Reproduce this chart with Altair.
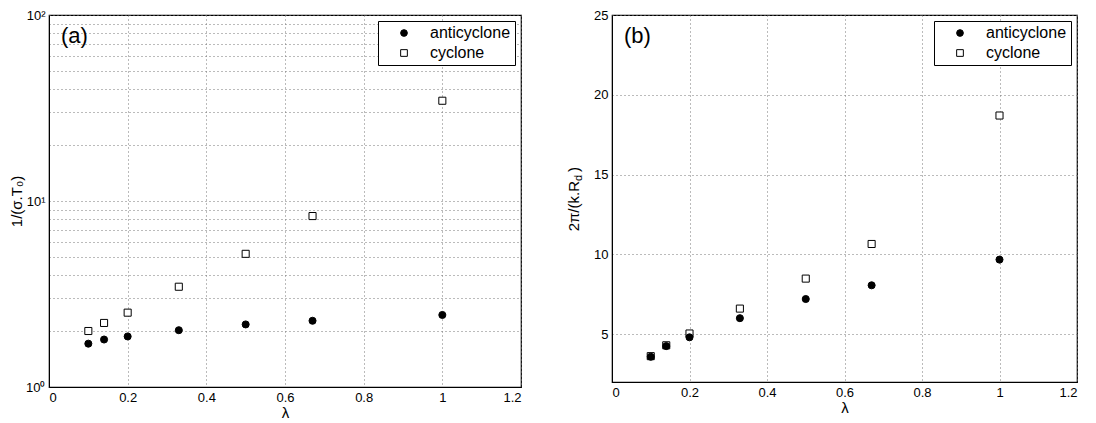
import altair as alt
import pandas as pd

# ---- data ----
lam = [0.1, 0.14, 0.2, 0.33, 0.5, 0.67, 1.0]
series = ["anticyclone", "cyclone"]
a_anti = [1.71, 1.80, 1.87, 2.02, 2.17, 2.27, 2.44]
a_cyc = [2.00, 2.21, 2.51, 3.46, 5.2, 8.3, 34.6]
b_anti = [3.58, 4.25, 4.80, 6.00, 7.20, 8.06, 9.67]
b_cyc = [3.62, 4.30, 5.04, 6.60, 8.48, 10.65, 18.70]
x_ticks = [0, 0.2, 0.4, 0.6, 0.8, 1.0, 1.2]
a_grid = [1, 2, 3, 4, 5, 6, 7, 8, 9, 10, 20, 30, 40, 50, 60, 70, 80, 90, 100]
b_ticks = [5, 10, 15, 20, 25]

FONT = "Liberation Sans"


def frame(anti, cyc):
    rows = []
    for x, v in zip(lam, anti):
        rows.append({"lam": x, "val": v, "type": series[0]})
    for x, v in zip(lam, cyc):
        rows.append({"lam": x, "val": v, "type": series[1]})
    df = pd.DataFrame(rows)
    df["order"] = df["type"].map({series[0]: 1, series[1]: 0})
    return df


def legend():
    return alt.Legend(
        orient="top-right", title=None, strokeColor="black", fillColor="white",
        padding=4, offset=6, labelFontSize=16, labelFont=FONT, labelColor="black",
        symbolSize=45, symbolOffset=14, labelOffset=18, rowPadding=4,
        cornerRadius=0, symbolStrokeWidth=1, symbolOpacity=1,
    )


def xenc():
    return alt.X("lam:Q", title="λ",
                 scale=alt.Scale(domain=[0, 1.2], nice=False, zero=False),
                 axis=alt.Axis(values=x_ticks, format="~g", grid=True,
                               titleFontSize=15, titlePadding=1))


def points(df, yenc):
    return alt.Chart(df).mark_point(filled=True, strokeWidth=1,
                                    opacity=1, size=50).encode(
        x=xenc(),
        y=yenc,
        shape=alt.Shape("type:N", scale=alt.Scale(domain=series, range=["circle", "square"]),
                        legend=legend()),
        fill=alt.Fill("type:N", scale=alt.Scale(domain=series, range=["black", "white"]),
                      legend=legend()),
        stroke=alt.Stroke("type:N", scale=alt.Scale(domain=series, range=["black", "black"]),
                          legend=legend()),
        order="order:Q",
    )


def panel_label(txt):
    return alt.Chart(pd.DataFrame({"t": [txt]})).mark_text(
        align="left", baseline="middle", fontSize=22, font=FONT, color="black"
    ).encode(x=alt.value(12), y=alt.value(21), text="t:N")


# ---- panel (a) ----
dfa = frame(a_anti, a_cyc)
ya = alt.Y("val:Q", title="1/(σ.T₀)",
           scale=alt.Scale(type="log", domain=[1, 100], nice=False),
           axis=alt.Axis(values=a_grid, grid=True, titleFontSize=15, titlePadding=1,
                         labelExpr="datum.value == 1 ? '10⁰' : datum.value == 10 ? '10¹' : datum.value == 100 ? '10²' : ''"))
left = alt.layer(points(dfa, ya), panel_label("(a)")).properties(width=472, height=372)

# ---- panel (b) ----
dfb = frame(b_anti, b_cyc)
yb = alt.Y("val:Q", title=None,
           scale=alt.Scale(domain=[2, 25], nice=False, zero=False),
           axis=alt.Axis(values=b_ticks, grid=True))

tdf_main = pd.DataFrame({"t": ["2π/(k.R"]})
tdf_sub = pd.DataFrame({"t": ["d"]})
tdf_end = pd.DataFrame({"t": [")"]})
t_main = alt.Chart(tdf_main).mark_text(angle=270, align="right", baseline="middle",
                                       fontSize=15, font=FONT, color="black").encode(
    x=alt.value(-38), y=alt.value(166), text="t:N")
t_sub = alt.Chart(tdf_sub).mark_text(angle=270, align="left", baseline="middle",
                                     fontSize=11, font=FONT, color="black").encode(
    x=alt.value(-33), y=alt.value(166), text="t:N")
t_end = alt.Chart(tdf_end).mark_text(angle=270, align="left", baseline="middle",
                                     fontSize=15, font=FONT, color="black").encode(
    x=alt.value(-38), y=alt.value(157), text="t:N")

right = alt.layer(points(dfb, yb), panel_label("(b)"), t_main, t_sub, t_end
                  ).properties(width=465, height=367)

chart = alt.hconcat(left, right, spacing=44).resolve_scale(
    x="independent", y="independent", shape="independent", fill="independent",
    stroke="independent"
).resolve_legend(shape="independent", fill="independent", stroke="independent").properties(
    padding={"left": 0, "top": 0, "right": 0, "bottom": 0}
).configure_view(stroke="black", strokeWidth=1.2).configure_axis(
    labelFont=FONT, titleFont=FONT, labelFontSize=13, labelColor="black",
    titleColor="black", titleFontWeight="normal", domainColor="black", domain=True,
    ticks=False, labelPadding=4,
    gridColor="#777777", gridDash=[1, 3], gridWidth=1, gridOpacity=1,
)

chart.save("out.html", embed_options={"renderer": "svg", "actions": False})
